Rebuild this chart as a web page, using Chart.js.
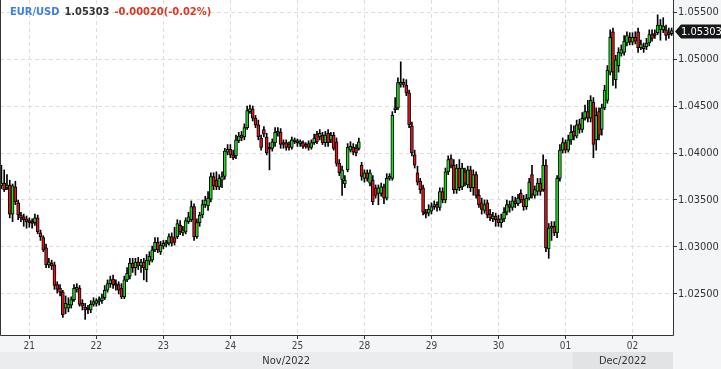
<!DOCTYPE html>
<html>
<head>
<meta charset="utf-8">
<script src="https://cdn.jsdelivr.net/npm/chart.js@4"></script>
<style>
  html, body { margin: 0; padding: 0; background: #f4f5f6; }
  #wrap { width: 721px; height: 369px; }
</style>
</head>
<body>
<div id="wrap"><canvas id="chart" width="721" height="369"></canvas></div>
<script>
// EUR/USD, bougies horaires, 20 nov -> 2 dec 2022
const symbol = 'EUR/USD';
const lastPrice = '1.05303';
const change = '-0.00020(-0.02%)';

// jours affichés (le week-end est sauté) et nombre de bougies par jour
const days = ['20', '21', '22', '23', '24', '25', '28', '29', '30', '01', '02'];
const candlesPerDay = [10, 24, 24, 24, 24, 24, 24, 24, 24, 24, 15];
const firstHour = [14, 0, 0, 0, 0, 0, 0, 0, 0, 0, 0];

const months = ['Nov/2022', 'Dec/2022'];
const monthStart = [0, 205];

const yTicks = [1.025, 1.030, 1.035, 1.040, 1.045, 1.050, 1.055];

const opens = [
  1.0365, 1.0368, 1.0363, 1.0366, 1.0335, 1.0364, 1.0347, 1.0334, 1.0332, 1.0330,
  1.0327, 1.0326, 1.0326, 1.0331, 1.0315, 1.0310, 1.0299, 1.0281, 1.0283, 1.0281,
  1.0260, 1.0256, 1.0252, 1.0235, 1.0235, 1.0238, 1.0244, 1.0255, 1.0256, 1.0240,
  1.0236, 1.0235, 1.0233, 1.0239, 1.0240, 1.0242, 1.0243, 1.0246, 1.0254, 1.0261,
  1.0266, 1.0261, 1.0260, 1.0256, 1.0247, 1.0265, 1.0269, 1.0283, 1.0278, 1.0284,
  1.0280, 1.0284, 1.0276, 1.0285, 1.0286, 1.0297, 1.0305, 1.0295, 1.0301, 1.0303,
  1.0304, 1.0311, 1.0310, 1.0311, 1.0323, 1.0315, 1.0316, 1.0327, 1.0329, 1.0343,
  1.0311, 1.0326, 1.0334, 1.0345, 1.0344, 1.0351, 1.0375, 1.0371, 1.0364, 1.0371,
  1.0375, 1.0401, 1.0404, 1.0398, 1.0397, 1.0413, 1.0419, 1.0417, 1.0427, 1.0444,
  1.0447, 1.0437, 1.0430, 1.0416, 1.0425, 1.0417, 1.0406, 1.0405, 1.0411, 1.0421,
  1.0422, 1.0411, 1.0411, 1.0409, 1.0406, 1.0412, 1.0413, 1.0410, 1.0411, 1.0409,
  1.0410, 1.0406, 1.0411, 1.0420, 1.0417, 1.0419, 1.0411, 1.0421, 1.0414, 1.0419,
  1.0412, 1.0389, 1.0372, 1.0367, 1.0382, 1.0403, 1.0406, 1.0405, 1.0405, 1.0387,
  1.0373, 1.0379, 1.0368, 1.0371, 1.0363, 1.0357, 1.0357, 1.0364, 1.0352, 1.0373,
  1.0373, 1.0446, 1.0448, 1.0473, 1.0475, 1.0472, 1.0464, 1.0429, 1.0398, 1.0379,
  1.0370, 1.0363, 1.0337, 1.0336, 1.0338, 1.0343, 1.0345, 1.0342, 1.0359, 1.0350,
  1.0380, 1.0394, 1.0387, 1.0361, 1.0384, 1.0364, 1.0380, 1.0366, 1.0382, 1.0363,
  1.0377, 1.0355, 1.0347, 1.0339, 1.0347, 1.0335, 1.0330, 1.0333, 1.0330, 1.0326,
  1.0330, 1.0337, 1.0345, 1.0342, 1.0349, 1.0346, 1.0357, 1.0351, 1.0343, 1.0352,
  1.0377, 1.0355, 1.0359, 1.0368, 1.0361, 1.0387, 1.0298, 1.0320, 1.0322, 1.0315,
  1.0373, 1.0403, 1.0411, 1.0403, 1.0414, 1.0423, 1.0418, 1.0431, 1.0425, 1.0437,
  1.0444, 1.0437, 1.0454, 1.0414, 1.0444, 1.0425, 1.0448, 1.0456, 1.0486, 1.0529,
  1.0478, 1.0493, 1.0506, 1.0507, 1.0517, 1.0523, 1.0518, 1.0523, 1.0529, 1.0512,
  1.0511, 1.0513, 1.0517, 1.0526, 1.0527, 1.0528, 1.0531, 1.0531, 1.0531, 1.0528, 1.0527
];

const highs = [
  1.0387, 1.0382, 1.0377, 1.0371, 1.0367, 1.0370, 1.0350, 1.0337, 1.0335, 1.0333,
  1.0331, 1.0330, 1.0335, 1.0334, 1.0318, 1.0312, 1.0303, 1.0288, 1.0286, 1.0284,
  1.0263, 1.0260, 1.0254, 1.0248, 1.0246, 1.0247, 1.0260, 1.0261, 1.0259, 1.0244,
  1.0240, 1.0238, 1.0243, 1.0246, 1.0245, 1.0247, 1.0250, 1.0259, 1.0265, 1.0269,
  1.0270, 1.0265, 1.0263, 1.0261, 1.0269, 1.0278, 1.0288, 1.0288, 1.0288, 1.0289,
  1.0287, 1.0288, 1.0292, 1.0295, 1.0301, 1.0310, 1.0310, 1.0306, 1.0307, 1.0307,
  1.0314, 1.0315, 1.0321, 1.0329, 1.0328, 1.0322, 1.0331, 1.0337, 1.0349, 1.0346,
  1.0330, 1.0337, 1.0350, 1.0354, 1.0359, 1.0379, 1.0379, 1.0380, 1.0377, 1.0380,
  1.0405, 1.0409, 1.0409, 1.0403, 1.0419, 1.0422, 1.0423, 1.0431, 1.0450, 1.0451,
  1.0450, 1.0440, 1.0435, 1.0419, 1.0428, 1.0421, 1.0411, 1.0415, 1.0427, 1.0427,
  1.0426, 1.0414, 1.0414, 1.0412, 1.0417, 1.0416, 1.0415, 1.0414, 1.0413, 1.0411,
  1.0413, 1.0414, 1.0420, 1.0423, 1.0425, 1.0422, 1.0423, 1.0425, 1.0422, 1.0422,
  1.0416, 1.0393, 1.0386, 1.0376, 1.0410, 1.0412, 1.0410, 1.0409, 1.0416, 1.0390,
  1.0382, 1.0382, 1.0382, 1.0376, 1.0366, 1.0366, 1.0368, 1.0367, 1.0378, 1.0378,
  1.0444, 1.0459, 1.0480, 1.0497, 1.0479, 1.0478, 1.0467, 1.0433, 1.0403, 1.0386,
  1.0373, 1.0366, 1.0340, 1.0345, 1.0347, 1.0349, 1.0348, 1.0363, 1.0363, 1.0384,
  1.0397, 1.0398, 1.0393, 1.0388, 1.0393, 1.0389, 1.0384, 1.0386, 1.0386, 1.0382,
  1.0380, 1.0361, 1.0352, 1.0350, 1.0350, 1.0340, 1.0337, 1.0336, 1.0334, 1.0335,
  1.0342, 1.0350, 1.0349, 1.0354, 1.0353, 1.0356, 1.0361, 1.0355, 1.0356, 1.0373,
  1.0387, 1.0365, 1.0373, 1.0373, 1.0398, 1.0393, 1.0325, 1.0327, 1.0327, 1.0376,
  1.0409, 1.0416, 1.0414, 1.0419, 1.0430, 1.0429, 1.0435, 1.0436, 1.0443, 1.0451,
  1.0456, 1.0461, 1.0459, 1.0448, 1.0448, 1.0452, 1.0472, 1.0493, 1.0531, 1.0533,
  1.0504, 1.0512, 1.0515, 1.0525, 1.0529, 1.0528, 1.0528, 1.0529, 1.0533, 1.0520,
  1.0517, 1.0522, 1.0531, 1.0531, 1.0531, 1.0547, 1.0542, 1.0544, 1.0536, 1.0533, 1.0533
];

const lows = [
  1.0362, 1.0359, 1.0361, 1.0331, 1.0327, 1.0345, 1.0329, 1.0327, 1.0322, 1.0320,
  1.0321, 1.0320, 1.0323, 1.0314, 1.0307, 1.0295, 1.0278, 1.0278, 1.0276, 1.0255,
  1.0251, 1.0248, 1.0225, 1.0229, 1.0231, 1.0235, 1.0242, 1.0252, 1.0237, 1.0233,
  1.0223, 1.0229, 1.0230, 1.0237, 1.0237, 1.0238, 1.0240, 1.0244, 1.0252, 1.0257,
  1.0256, 1.0254, 1.0250, 1.0245, 1.0245, 1.0263, 1.0266, 1.0273, 1.0270, 1.0276,
  1.0273, 1.0265, 1.0263, 1.0281, 1.0284, 1.0295, 1.0294, 1.0292, 1.0298, 1.0300,
  1.0302, 1.0301, 1.0302, 1.0309, 1.0313, 1.0312, 1.0314, 1.0325, 1.0327, 1.0307,
  1.0309, 1.0322, 1.0331, 1.0342, 1.0339, 1.0348, 1.0361, 1.0361, 1.0361, 1.0363,
  1.0372, 1.0398, 1.0395, 1.0393, 1.0394, 1.0411, 1.0413, 1.0414, 1.0425, 1.0442,
  1.0434, 1.0427, 1.0414, 1.0403, 1.0417, 1.0398, 1.0382, 1.0402, 1.0407, 1.0418,
  1.0405, 1.0405, 1.0403, 1.0403, 1.0404, 1.0410, 1.0407, 1.0407, 1.0405, 1.0405,
  1.0403, 1.0404, 1.0409, 1.0410, 1.0414, 1.0409, 1.0407, 1.0407, 1.0411, 1.0403,
  1.0386, 1.0376, 1.0355, 1.0363, 1.0380, 1.0401, 1.0398, 1.0397, 1.0403, 1.0371,
  1.0369, 1.0370, 1.0365, 1.0345, 1.0352, 1.0345, 1.0354, 1.0346, 1.0350, 1.0371,
  1.0371, 1.0443, 1.0446, 1.0470, 1.0470, 1.0461, 1.0427, 1.0397, 1.0384, 1.0366,
  1.0357, 1.0334, 1.0331, 1.0333, 1.0335, 1.0340, 1.0338, 1.0339, 1.0347, 1.0347,
  1.0377, 1.0384, 1.0357, 1.0357, 1.0360, 1.0361, 1.0365, 1.0363, 1.0359, 1.0355,
  1.0352, 1.0342, 1.0335, 1.0336, 1.0331, 1.0328, 1.0327, 1.0322, 1.0322, 1.0321,
  1.0327, 1.0334, 1.0337, 1.0339, 1.0342, 1.0344, 1.0347, 1.0339, 1.0340, 1.0350,
  1.0352, 1.0352, 1.0355, 1.0355, 1.0359, 1.0295, 1.0288, 1.0307, 1.0312, 1.0310,
  1.0370, 1.0400, 1.0400, 1.0401, 1.0409, 1.0414, 1.0416, 1.0421, 1.0422, 1.0435,
  1.0433, 1.0433, 1.0395, 1.0403, 1.0414, 1.0419, 1.0446, 1.0453, 1.0483, 1.0472,
  1.0469, 1.0486, 1.0503, 1.0504, 1.0514, 1.0515, 1.0515, 1.0516, 1.0507, 1.0510,
  1.0507, 1.0510, 1.0514, 1.0519, 1.0522, 1.0526, 1.0520, 1.0528, 1.0520, 1.0522, 1.0525
];

const closes = [
  1.0368, 1.0361, 1.0366, 1.0335, 1.0365, 1.0348, 1.0334, 1.0331, 1.0329, 1.0327,
  1.0326, 1.0325, 1.0331, 1.0316, 1.0311, 1.0297, 1.0281, 1.0284, 1.0280, 1.0259,
  1.0255, 1.0252, 1.0228, 1.0240, 1.0239, 1.0244, 1.0256, 1.0257, 1.0239, 1.0237,
  1.0233, 1.0233, 1.0239, 1.0242, 1.0243, 1.0244, 1.0246, 1.0254, 1.0261, 1.0265,
  1.0260, 1.0259, 1.0254, 1.0247, 1.0265, 1.0272, 1.0283, 1.0278, 1.0284, 1.0280,
  1.0284, 1.0278, 1.0286, 1.0290, 1.0297, 1.0305, 1.0297, 1.0302, 1.0304, 1.0305,
  1.0311, 1.0304, 1.0305, 1.0325, 1.0316, 1.0318, 1.0328, 1.0332, 1.0343, 1.0311,
  1.0326, 1.0334, 1.0345, 1.0350, 1.0352, 1.0375, 1.0365, 1.0364, 1.0373, 1.0375,
  1.0402, 1.0404, 1.0398, 1.0395, 1.0414, 1.0418, 1.0416, 1.0427, 1.0445, 1.0447,
  1.0437, 1.0430, 1.0417, 1.0406, 1.0420, 1.0400, 1.0404, 1.0412, 1.0422, 1.0423,
  1.0409, 1.0409, 1.0406, 1.0406, 1.0414, 1.0414, 1.0411, 1.0411, 1.0407, 1.0407,
  1.0406, 1.0411, 1.0416, 1.0412, 1.0421, 1.0411, 1.0419, 1.0411, 1.0419, 1.0405,
  1.0389, 1.0379, 1.0382, 1.0371, 1.0406, 1.0407, 1.0401, 1.0400, 1.0412, 1.0375,
  1.0379, 1.0373, 1.0379, 1.0348, 1.0355, 1.0363, 1.0364, 1.0352, 1.0373, 1.0375,
  1.0440, 1.0448, 1.0475, 1.0475, 1.0473, 1.0464, 1.0430, 1.0400, 1.0387, 1.0369,
  1.0361, 1.0337, 1.0335, 1.0340, 1.0343, 1.0345, 1.0342, 1.0359, 1.0350, 1.0380,
  1.0393, 1.0387, 1.0361, 1.0384, 1.0363, 1.0384, 1.0368, 1.0382, 1.0363, 1.0377,
  1.0355, 1.0345, 1.0340, 1.0345, 1.0334, 1.0331, 1.0333, 1.0329, 1.0326, 1.0330,
  1.0337, 1.0345, 1.0342, 1.0349, 1.0346, 1.0352, 1.0350, 1.0343, 1.0352, 1.0369,
  1.0356, 1.0361, 1.0368, 1.0359, 1.0387, 1.0299, 1.0320, 1.0322, 1.0315, 1.0373,
  1.0403, 1.0411, 1.0403, 1.0414, 1.0422, 1.0418, 1.0430, 1.0425, 1.0437, 1.0444,
  1.0437, 1.0456, 1.0409, 1.0440, 1.0419, 1.0448, 1.0467, 1.0488, 1.0523, 1.0486,
  1.0499, 1.0507, 1.0510, 1.0519, 1.0525, 1.0518, 1.0523, 1.0519, 1.0512, 1.0516,
  1.0513, 1.0517, 1.0526, 1.0522, 1.0525, 1.0536, 1.0536, 1.0535, 1.0525, 1.0526, 1.05303
];

// étiquettes des bougies : "jour hh:00"
const categories = [];
const dayStart = [];
days.forEach((d, k) => {
  if (k > 0) dayStart.push(categories.length);
  for (let h = 0; h < candlesPerDay[k]; h++) {
    categories.push(d + ' ' + String(firstHour[k] + h).padStart(2, '0') + ':00');
  }
});

const UP = '#19df19';
const DOWN = '#e8141b';
const FONT = "'DejaVu Sans Condensed', 'DejaVu Sans', sans-serif";

const bodies = opens.map((o, i) => [o, closes[i]]);
const wicks = lows.map((l, i) => [l, highs[i]]);
const bodyColors = opens.map((o, i) => closes[i] >= o ? UP : DOWN);

// fond, bande des mois, cadre, titre et étiquette du dernier prix
const decor = {
  id: 'decor',
  beforeDraw(chart) {
    const { ctx, chartArea: a, scales: { x } } = chart;
    ctx.save();
    ctx.fillStyle = '#f4f5f6';
    ctx.fillRect(0, 0, chart.width, chart.height);
    ctx.fillStyle = '#ffffff';
    ctx.fillRect(a.left, a.top, a.right - a.left, a.bottom - a.top);

    const bandTop = a.bottom + 17;
    const step = (a.right - a.left) / categories.length;
    ctx.font = '11px ' + FONT;
    ctx.textAlign = 'center';
    ctx.textBaseline = 'middle';
    months.forEach((m, k) => {
      const x0 = k === 0 ? a.left : x.getPixelForValue(monthStart[k]) - step / 2;
      const x1 = k + 1 < months.length ? x.getPixelForValue(monthStart[k + 1]) - step / 2 : a.right;
      ctx.fillStyle = k === 0 ? '#ebeced' : '#e2e3e5';
      ctx.fillRect(x0, bandTop, x1 - x0, chart.height - bandTop);
      ctx.fillStyle = '#333';
      ctx.fillText(m, (x0 + x1) / 2, bandTop + 9);
    });
    ctx.restore();
  },
  afterDraw(chart) {
    const { ctx, chartArea: a, scales: { y } } = chart;
    ctx.save();
    // cadre
    ctx.strokeStyle = '#333';
    ctx.lineWidth = 1;
    ctx.beginPath();
    ctx.moveTo(a.left + 0.5, a.top);
    ctx.lineTo(a.left + 0.5, a.bottom + 0.5);
    ctx.lineTo(a.right + 0.5, a.bottom + 0.5);
    ctx.lineTo(a.right + 0.5, a.top);
    ctx.stroke();

    // titre
    ctx.font = 'bold 11px ' + FONT;
    ctx.textBaseline = 'middle';
    ctx.textAlign = 'left';
    let tx = 10;
    [[symbol, '#3d7fe6'], [lastPrice, '#333333'], [change, '#e0361d']].forEach(([t, c]) => {
      ctx.fillStyle = c;
      ctx.fillText(t, tx, 12);
      tx += ctx.measureText(t).width + 5;
    });

    // dernier prix
    const py = Math.round(y.getPixelForValue(closes[closes.length - 1])) + 0.5;
    const bx = a.right + 8;
    ctx.fillStyle = '#161616';
    ctx.beginPath();
    ctx.moveTo(a.right + 2, py);
    ctx.lineTo(bx, py - 7);
    ctx.lineTo(chart.width, py - 7);
    ctx.lineTo(chart.width, py + 7);
    ctx.lineTo(bx, py + 7);
    ctx.closePath();
    ctx.fill();
    ctx.fillStyle = '#fff';
    ctx.font = '11px ' + FONT;
    ctx.fillText(lastPrice, bx, py + 0.5);
    ctx.restore();
  }
};

new Chart(document.getElementById('chart'), {
  type: 'bar',
  data: {
    labels: categories,
    datasets: [
      {
        data: bodies,
        backgroundColor: bodyColors,
        borderColor: '#000',
        borderWidth: 1,
        borderSkipped: false,
        barThickness: 3,
        minBarLength: 2,
        grouped: false,
        order: 0
      },
      {
        data: wicks,
        backgroundColor: '#000',
        borderWidth: 0,
        barThickness: 1,
        grouped: false,
        order: 1
      }
    ]
  },
  options: {
    responsive: false,
    animation: false,
    layout: { padding: { left: 0, top: 0, right: 0, bottom: 17 } },
    plugins: { legend: { display: false }, tooltip: { enabled: false } },
    scales: {
      x: {
        offset: true,
        afterBuildTicks: (s) => { s.ticks = dayStart.map(v => ({ value: v })); },
        afterFit: (s) => { s.height = 17; s.paddingLeft = 0; s.paddingRight = 0; },
        grid: { offset: false, color: '#dedede', tickColor: '#333', tickLength: 4 },
        border: { display: false, dash: [4, 3] },
        ticks: {
          autoSkip: false,
          maxRotation: 0,
          padding: 1,
          color: '#444',
          font: { family: FONT, size: 10 },
          callback: (v) => categories[v].slice(0, 2)
        }
      },
      y: {
        position: 'right',
        min: 1.020638,
        max: 1.056277,
        afterBuildTicks: (s) => { s.ticks = yTicks.map(v => ({ value: v })); },
        afterFit: (s) => { s.width = 48; s.paddingTop = 0; s.paddingBottom = 0; },
        grid: { color: '#dedede', tickColor: '#333', tickLength: 4 },
        border: { display: false, dash: [4, 3] },
        ticks: {
          padding: 1,
          color: '#333',
          font: { family: FONT, size: 11 },
          callback: (v) => v.toFixed(5)
        }
      }
    }
  },
  plugins: [decor]
});
</script>
</body>
</html>
